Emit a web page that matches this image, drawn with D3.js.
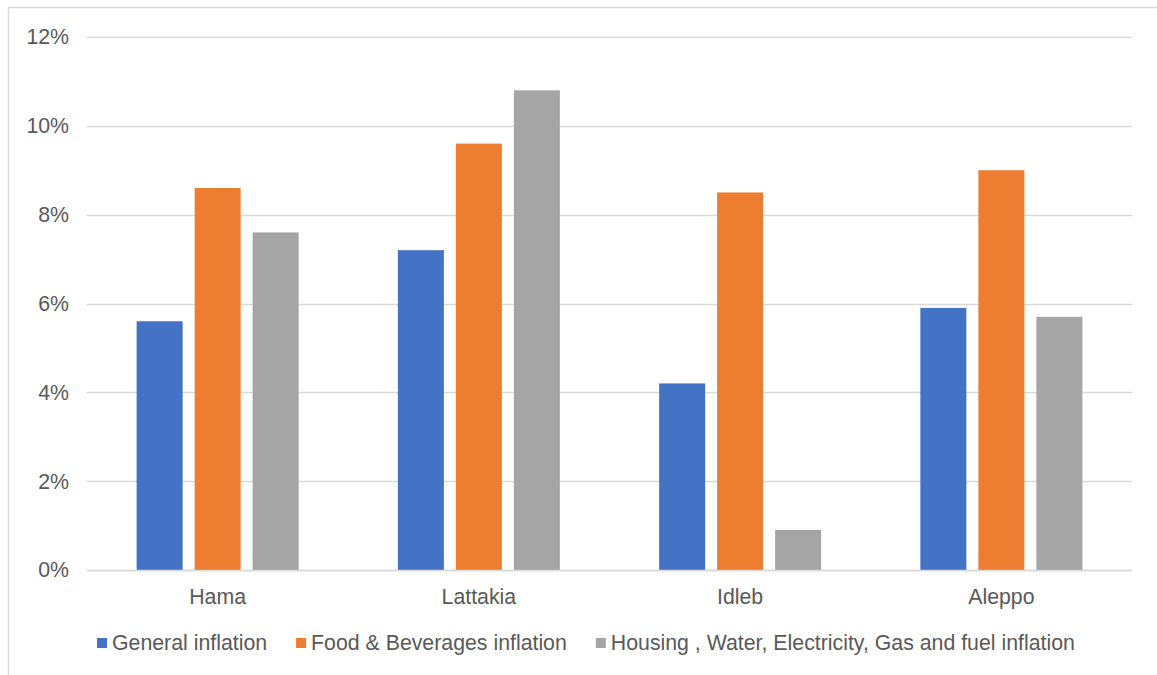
<!DOCTYPE html>
<html>
<head>
<meta charset="utf-8">
<script src="https://cdn.jsdelivr.net/npm/d3@7/dist/d3.min.js"></script>
<style>
  html, body { margin: 0; padding: 0; background: #fff; }
  svg { display: block; font-family: "Liberation Sans", Arial, sans-serif; }
</style>
</head>
<body>
<svg id="chart" width="1157" height="675"></svg>
<script>
// Regions shown along the x axis
const regions = ["Hama", "Lattakia", "Idleb", "Aleppo"];

// Series names and colours
const seriesNames = [
  "General inflation",
  "Food & Beverages inflation",
  "Housing , Water, Electricity, Gas and fuel inflation"
];
const seriesColors = ["#4472C4", "#ED7D31", "#A5A5A5"];

// Inflation by region (fraction), one array per series
const generalInflation = [0.056, 0.072, 0.042, 0.059];
const foodInflation    = [0.086, 0.096, 0.085, 0.090];
const housingInflation = [0.076, 0.108, 0.009, 0.057];

// Y axis ticks
const yTicks = [0, 0.02, 0.04, 0.06, 0.08, 0.10, 0.12];

const seriesValues = [generalInflation, foodInflation, housingInflation];

const svg = d3.select("#chart");
const W = 1157, H = 675;
const FS = 21.3;

// Outer chart frame
svg.append("rect")
  .attr("x", 8.5).attr("y", 7.5)
  .attr("width", W + 20).attr("height", H + 20)
  .attr("fill", "none").attr("stroke", "#D9D9D9").attr("stroke-width", 1.5);

const plot = { left: 87, right: 1132, top: 37, bottom: 570 };

const y = d3.scaleLinear().domain([0, 0.12]).range([plot.bottom, plot.top]);

const x0 = d3.scaleBand().domain(regions)
  .range([plot.left, plot.right]).paddingInner(0).paddingOuter(0);

// group of three bars, 46px wide with 12px gaps
const barW = 46, gap = 12;
const x1 = d3.scaleBand().domain(d3.range(seriesNames.length))
  .range([0, barW * 3 + gap * 2]).paddingInner(gap / (barW + gap)).paddingOuter(0);

// Gridlines
svg.append("g").selectAll("line").data(yTicks).join("line")
  .attr("x1", plot.left).attr("x2", plot.right)
  .attr("y1", d => Math.round(y(d)) + 0.5).attr("y2", d => Math.round(y(d)) + 0.5)
  .attr("stroke", "#D9D9D9").attr("stroke-width", 1.5);

// Y tick labels
svg.append("g").selectAll("text").data(yTicks).join("text")
  .attr("x", 69).attr("y", d => y(d))
  .attr("dy", "0.35em")
  .attr("text-anchor", "end")
  .attr("font-size", FS)
  .attr("fill", "#595959")
  .text(d3.format(".0%"));

// Bars
const groupW = barW * 3 + gap * 2;
const groups = svg.append("g").selectAll("g").data(regions).join("g")
  .attr("transform", d => `translate(${x0(d) + x0.bandwidth() / 2 - groupW / 2},0)`);

groups.selectAll("rect")
  .data((d, i) => seriesValues.map((vals, s) => ({ s, v: vals[i] })))
  .join("rect")
  .attr("x", d => x1(d.s))
  .attr("width", x1.bandwidth())
  .attr("y", d => y(d.v))
  .attr("height", d => y(0) - y(d.v))
  .attr("fill", d => seriesColors[d.s]);

// Baseline over bars
svg.append("line")
  .attr("x1", plot.left).attr("x2", plot.right)
  .attr("y1", plot.bottom + 0.5).attr("y2", plot.bottom + 0.5)
  .attr("stroke", "#D9D9D9").attr("stroke-width", 1.5);

// Category labels
svg.append("g").selectAll("text").data(regions).join("text")
  .attr("x", d => x0(d) + x0.bandwidth() / 2)
  .attr("y", 597).attr("dy", "0.35em")
  .attr("text-anchor", "middle")
  .attr("font-size", FS)
  .attr("fill", "#595959")
  .text(d => d);

// Legend
const legend = svg.append("g");
let lx = 97;
seriesNames.forEach((name, i) => {
  legend.append("rect")
    .attr("x", lx).attr("y", 638).attr("width", 10).attr("height", 10)
    .attr("fill", seriesColors[i]);
  const t = legend.append("text")
    .attr("x", lx + 15).attr("y", 643).attr("dy", "0.35em")
    .attr("font-size", FS).attr("fill", "#595959")
    .text(name);
  lx += 15 + t.node().getComputedTextLength() + 29;
});
</script>
</body>
</html>
